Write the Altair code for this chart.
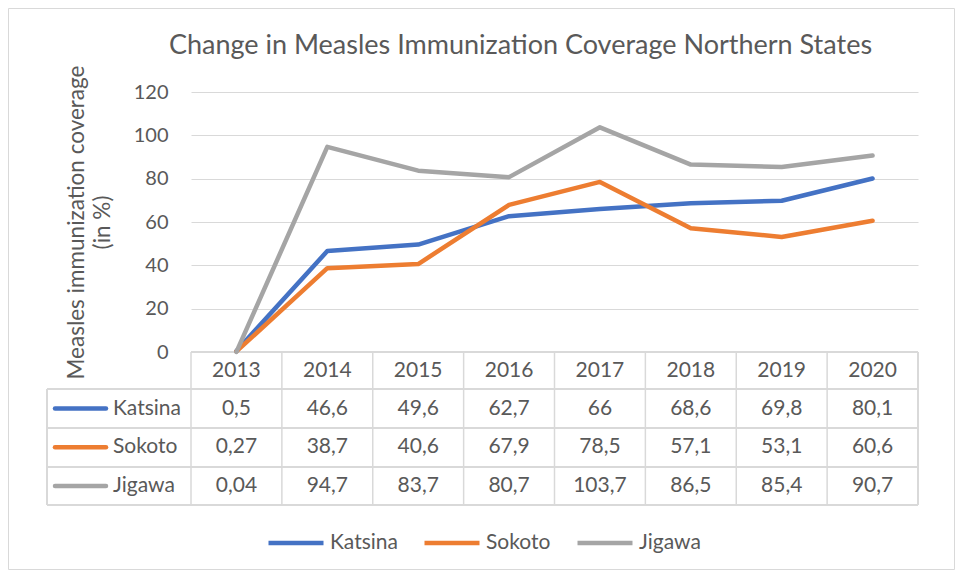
import altair as alt
import pandas as pd

# ---- data ----
years = ["2013", "2014", "2015", "2016", "2017", "2018", "2019", "2020"]
series_names = ["Katsina", "Sokoto", "Jigawa"]
katsina = [0.5, 46.6, 49.6, 62.7, 66, 68.6, 69.8, 80.1]
sokoto = [0.27, 38.7, 40.6, 67.9, 78.5, 57.1, 53.1, 60.6]
jigawa = [0.04, 94.7, 83.7, 80.7, 103.7, 86.5, 85.4, 90.7]
y_ticks = [0, 20, 40, 60, 80, 100, 120]
colors = ["#4472C4", "#ED7D31", "#A5A5A5"]

rows = []
for name, vals in zip(series_names, [katsina, sokoto, jigawa]):
    for yr, v in zip(years, vals):
        rows.append({"year": yr, "series": name, "value": v,
                     "label": f"{v:g}".replace(".", ",")})
df = pd.DataFrame(rows)
df_years = pd.DataFrame({"year": years})
df_series = pd.DataFrame({"series": series_names})

# ---- layout ----
W, H = 727, 260
PAD = {"left": 183, "top": 84, "right": 37, "bottom": 218}
FONT = "Lato"
TXT = "#595959"
GRID = "#d9d9d9"
HEADER_Y = 279
ROW_LINES = [297, 336, 375, 413]
ROW_RANGE = [316.5, 394]
LEFT_X = -144

xs = alt.Scale(type="band", domain=years, paddingInner=0, paddingOuter=0)
cs = alt.Scale(domain=series_names, range=colors)
legend = alt.Legend(orient="none", legendX=75, legendY=421, direction="horizontal",
                    title=None, symbolType="stroke", symbolSize=3025,
                    symbolStrokeWidth=4.5, labelFont=FONT, labelFontSize=21,
                    labelColor=TXT, labelOffset=4, columnPadding=17, padding=0)
rowscale = alt.Scale(type="point", domain=series_names, range=ROW_RANGE, padding=0)

lines = alt.Chart(df).mark_line(strokeWidth=4.5, strokeCap="round", strokeJoin="round").encode(
    x=alt.X("year:O", scale=xs, bandPosition=0.5, axis=None),
    y=alt.Y("value:Q", scale=alt.Scale(domain=[0, 120]),
            axis=alt.Axis(values=y_ticks, grid=True, gridColor=GRID, gridWidth=1,
                          domain=False, ticks=False, labelFont=FONT, labelFontSize=20,
                          labelColor=TXT, labelPadding=23,
                          title=["Measles immunization coverage", "(in %)"],
                          titleFont=FONT, titleFontSize=22.5, titleFontWeight="normal",
                          titleColor=TXT, titleLineHeight=26, titlePadding=19)),
    color=alt.Color("series:N", scale=cs, legend=legend),
)

# table grid
hrules = []
hrules.append(alt.Chart(df_years).mark_rule(color=GRID, strokeWidth=1.5).encode(
    x=alt.value(0), x2=alt.value(W), y=alt.value(H)))
for yy in ROW_LINES:
    hrules.append(alt.Chart(df_years).mark_rule(color=GRID, strokeWidth=1.5).encode(
        x=alt.value(LEFT_X), x2=alt.value(W), y=alt.value(yy)))
vrules = alt.Chart(df_years).mark_rule(color=GRID, strokeWidth=1.5).encode(
    x=alt.X("year:O", scale=xs, bandPosition=0, axis=None),
    y=alt.value(H), y2=alt.value(ROW_LINES[-1]))
vright = alt.Chart(df_years).mark_rule(color=GRID, strokeWidth=1.5).encode(
    x=alt.value(W), y=alt.value(H), y2=alt.value(ROW_LINES[-1]))
vleft = alt.Chart(df_years).mark_rule(color=GRID, strokeWidth=1.5).encode(
    x=alt.value(LEFT_X), y=alt.value(ROW_LINES[0]), y2=alt.value(ROW_LINES[-1]))

header = alt.Chart(df_years).mark_text(font=FONT, fontSize=21, color=TXT, baseline="middle").encode(
    x=alt.X("year:O", scale=xs, bandPosition=0.5, axis=None),
    y=alt.value(HEADER_Y), text="year:N")

cells = alt.Chart(df).mark_text(font=FONT, fontSize=21, color=TXT, baseline="middle").encode(
    x=alt.X("year:O", scale=xs, bandPosition=0.5, axis=None),
    y=alt.Y("series:N", scale=rowscale, axis=None),
    text="label:N")

rowlabels = alt.Chart(df_series).mark_text(font=FONT, fontSize=21, color=TXT,
                                           baseline="middle", align="left").encode(
    x=alt.value(-78),
    y=alt.Y("series:N", scale=rowscale, axis=None),
    text="series:N")

keys = alt.Chart(df_series).mark_rule(strokeWidth=4.5, strokeCap="round").encode(
    x=alt.value(-136), x2=alt.value(-85),
    y=alt.Y("series:N", scale=rowscale, axis=None),
    color=alt.Color("series:N", scale=cs, legend=legend))

border = alt.Chart(df_series.head(1)).mark_rect(fill=None, stroke=GRID, strokeWidth=1).encode(
    x=alt.value(-PAD["left"] + 0.5), x2=alt.value(W + PAD["right"] - 0.5),
    y=alt.value(-PAD["top"] + 0.5), y2=alt.value(H + PAD["bottom"] - 0.5))

chart = alt.layer(border, *hrules, vrules, vright, vleft, lines, header, cells, rowlabels, keys).resolve_scale(
    y="independent"
).properties(
    width=W, height=H,
    padding=PAD,
    autosize=alt.AutoSizeParams(type="none"),
    title=alt.TitleParams("Change in Measles Immunization Coverage Northern States",
                          font=FONT, fontSize=27, fontWeight="normal", color=TXT,
                          anchor="middle", dx=-34, offset=0, dy=52),
).configure_view(stroke=None)

chart.save("out.html", embed_options={"renderer": "svg", "actions": False})
